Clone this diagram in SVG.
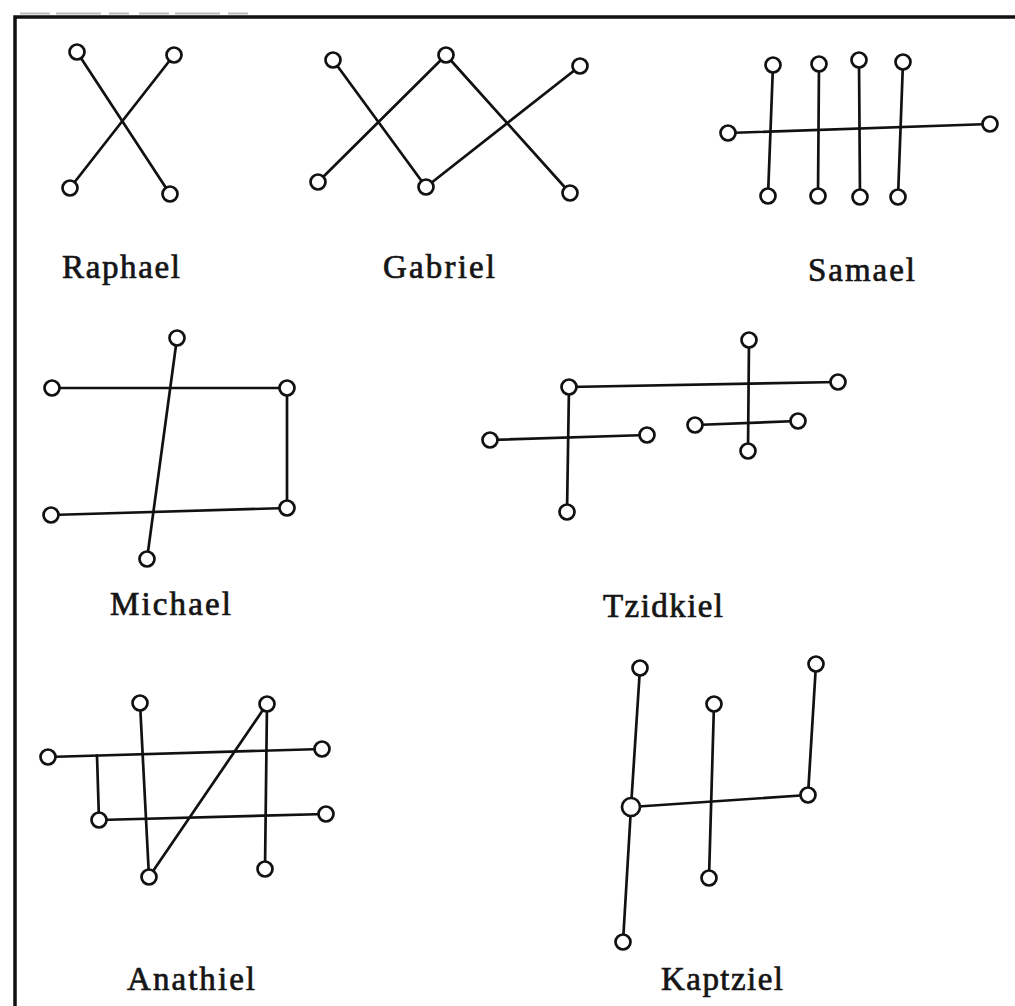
<svg xmlns="http://www.w3.org/2000/svg" width="1015" height="1006" viewBox="0 0 1015 1006">
<style>
.bg{fill:#fff}
.frame{fill:none;stroke:#111;stroke-width:3.5}
.e line{stroke:#111;stroke-width:2.7;fill:none;stroke-linecap:round}
.n circle{fill:#fff;stroke:#111;stroke-width:2.7}
.lbl{font-family:"Liberation Serif","Times New Roman",serif;font-size:33px;fill:#151515;stroke:#151515;stroke-width:0.7}
</style>
<rect class="bg" x="0" y="0" width="1015" height="1006"/>
<g id="frame">
<line x1="20" y1="13.5" x2="250" y2="13.5" stroke="#bbb" stroke-width="2" stroke-dasharray="30 6 45 8 20 10"/>
<polyline class="frame" points="15,1006 15,17 1015,17"/>
</g>

<g id="raphael">
<g class="e">
<line x1="77" y1="52" x2="170" y2="194"/>
<line x1="174" y1="55" x2="70" y2="188"/>
</g>
<g class="n">
<circle cx="77" cy="52" r="7.5"/><circle cx="174" cy="55" r="7.5"/>
<circle cx="70" cy="188" r="7.5"/><circle cx="170" cy="194" r="7.5"/>
</g>
<text class="lbl" x="62" y="278" textLength="118" lengthAdjust="spacing">Raphael</text>
</g>

<g id="gabriel">
<g class="e">
<line x1="333" y1="60" x2="426" y2="187"/>
<line x1="426" y1="187" x2="580" y2="66"/>
<line x1="446" y1="55" x2="318" y2="182"/>
<line x1="446" y1="55" x2="570" y2="193"/>
</g>
<g class="n">
<circle cx="333" cy="60" r="7.5"/><circle cx="446" cy="55" r="7.5"/><circle cx="580" cy="66" r="7.5"/>
<circle cx="318" cy="182" r="7.5"/><circle cx="426" cy="187" r="7.5"/><circle cx="570" cy="193" r="7.5"/>
</g>
<text class="lbl" x="383" y="278" textLength="112" lengthAdjust="spacing">Gabriel</text>
</g>

<g id="samael">
<g class="e">
<line x1="728" y1="133" x2="990" y2="124"/>
<line x1="773" y1="65" x2="768" y2="196"/>
<line x1="819" y1="64" x2="818" y2="196"/>
<line x1="859" y1="60" x2="860" y2="197"/>
<line x1="903" y1="62" x2="898" y2="197"/>
</g>
<g class="n">
<circle cx="728" cy="133" r="7.5"/><circle cx="990" cy="124" r="7.5"/>
<circle cx="773" cy="65" r="7.5"/><circle cx="819" cy="64" r="7.5"/><circle cx="859" cy="60" r="7.5"/><circle cx="903" cy="62" r="7.5"/>
<circle cx="768" cy="196" r="7.5"/><circle cx="818" cy="196" r="7.5"/><circle cx="860" cy="197" r="7.5"/><circle cx="898" cy="197" r="7.5"/>
</g>
<text class="lbl" x="808" y="281" textLength="107" lengthAdjust="spacing">Samael</text>
</g>

<g id="michael">
<g class="e">
<line x1="52" y1="388" x2="287" y2="388"/>
<line x1="287" y1="388" x2="287" y2="508"/>
<line x1="287" y1="508" x2="51" y2="515"/>
<line x1="177" y1="338" x2="147" y2="559"/>
</g>
<g class="n">
<circle cx="177" cy="338" r="7.5"/><circle cx="52" cy="388" r="7.5"/><circle cx="287" cy="388" r="7.5"/>
<circle cx="51" cy="515" r="7.5"/><circle cx="287" cy="508" r="7.5"/><circle cx="147" cy="559" r="7.5"/>
</g>
<text class="lbl" x="110" y="615" textLength="121" lengthAdjust="spacing">Michael</text>
</g>

<g id="tzidkiel">
<g class="e">
<line x1="569" y1="387" x2="838" y2="382"/>
<line x1="569" y1="387" x2="567" y2="512"/>
<line x1="490" y1="440" x2="647" y2="435"/>
<line x1="749" y1="340" x2="748" y2="451"/>
<line x1="695" y1="425" x2="798" y2="421"/>
</g>
<g class="n">
<circle cx="749" cy="340" r="7.5"/><circle cx="838" cy="382" r="7.5"/><circle cx="569" cy="387" r="7.5"/>
<circle cx="490" cy="440" r="7.5"/><circle cx="647" cy="435" r="7.5"/><circle cx="567" cy="512" r="7.5"/>
<circle cx="695" cy="425" r="7.5"/><circle cx="798" cy="421" r="7.5"/><circle cx="748" cy="451" r="7.5"/>
</g>
<text class="lbl" x="603" y="617" textLength="120" lengthAdjust="spacing">Tzidkiel</text>
</g>

<g id="anathiel">
<g class="e">
<line x1="48" y1="757" x2="322" y2="749"/>
<line x1="97" y1="755.5" x2="99" y2="820"/>
<line x1="99" y1="820" x2="326" y2="814"/>
<line x1="140" y1="703" x2="149" y2="877"/>
<line x1="149" y1="877" x2="267" y2="704"/>
<line x1="267" y1="704" x2="265" y2="869"/>
</g>
<g class="n">
<circle cx="48" cy="757" r="7.5"/><circle cx="140" cy="703" r="7.5"/><circle cx="267" cy="704" r="7.5"/>
<circle cx="322" cy="749" r="7.5"/><circle cx="99" cy="820" r="7.5"/><circle cx="326" cy="814" r="7.5"/>
<circle cx="149" cy="877" r="7.5"/><circle cx="265" cy="869" r="7.5"/>
</g>
<text class="lbl" x="127" y="990" textLength="128" lengthAdjust="spacing">Anathiel</text>
</g>

<g id="kaptziel">
<g class="e">
<line x1="640" y1="668" x2="631" y2="807"/>
<line x1="631" y1="807" x2="623" y2="942"/>
<line x1="631" y1="807" x2="808" y2="795"/>
<line x1="808" y1="795" x2="816" y2="664"/>
<line x1="714" y1="704" x2="709" y2="878"/>
</g>
<g class="n">
<circle cx="640" cy="668" r="7.5"/><circle cx="714" cy="704" r="7.5"/><circle cx="816" cy="664" r="7.5"/>
<circle cx="631" cy="807" r="9"/><circle cx="808" cy="795" r="7.5"/><circle cx="709" cy="878" r="7.5"/>
<circle cx="623" cy="942" r="7.5"/>
</g>
<text class="lbl" x="661" y="990" textLength="122" lengthAdjust="spacing">Kaptziel</text>
</g>
</svg>
